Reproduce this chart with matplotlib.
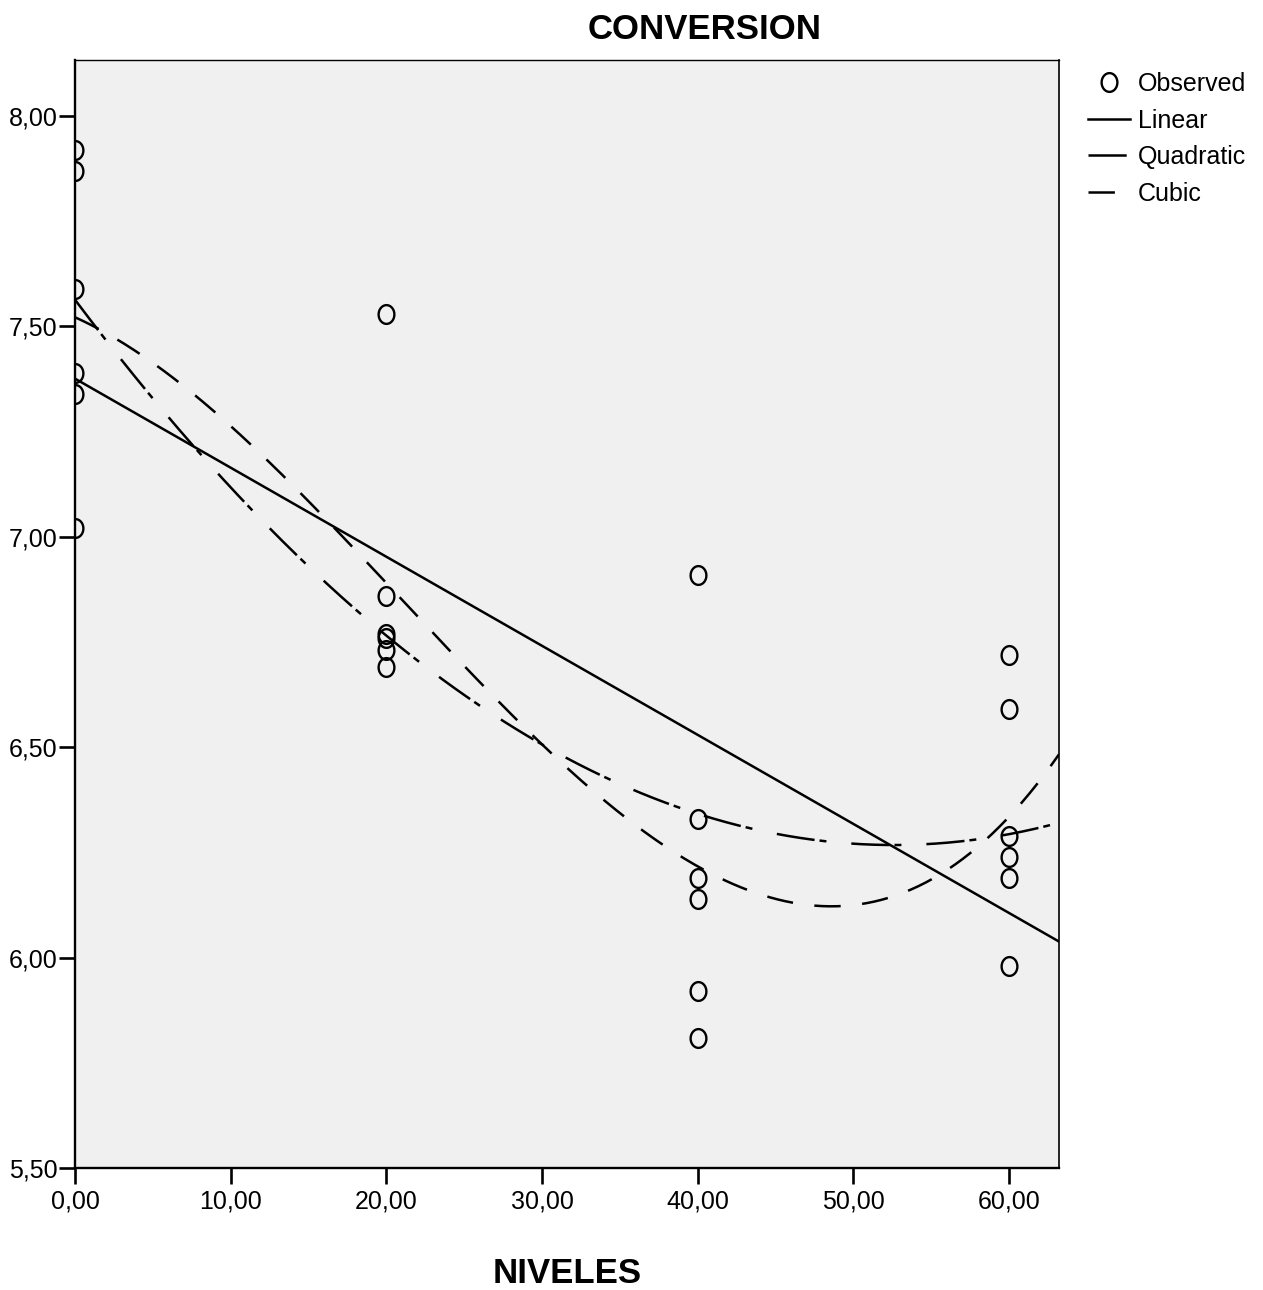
import numpy as np
import matplotlib
matplotlib.use('Agg')
import matplotlib.pyplot as plt
from matplotlib.path import Path

plt.rcParams['font.family'] = ['Liberation Sans', 'DejaVu Sans']
plt.rcParams['lines.scale_dashes'] = False

# datos
niveles = [0, 0, 0, 0, 0, 0,
           20, 20, 20, 20, 20, 20,
           40, 40, 40, 40, 40, 40,
           60, 60, 60, 60, 60, 60]
conversion = [7.92, 7.87, 7.59, 7.39, 7.34, 7.02,
              7.53, 6.86, 6.77, 6.76, 6.73, 6.69,
              6.91, 6.33, 6.19, 6.14, 5.92, 5.81,
              6.72, 6.59, 6.29, 6.24, 6.19, 5.98]
xticks = [0, 10, 20, 30, 40, 50, 60]
yticks = [5.5, 6.0, 6.5, 7.0, 7.5, 8.0]

x = np.array(niveles, dtype=float)
y = np.array(conversion)

xmin, xmax = 0, 63.2
ymin, ymax = 5.5, 8.133
xs = np.linspace(xmin, xmax, 400)
p1 = np.polyfit(x, y, 1)   # lineal
p2 = np.polyfit(x, y, 2)   # cuadratica
p3 = np.polyfit(x, y, 3)   # cubica

# marcador eliptico (mas alto que ancho)
t = np.linspace(0, 2 * np.pi, 60)
ellipse = Path(np.column_stack((0.42 * np.cos(t), 0.5 * np.sin(t))), closed=True)

fig = plt.figure(figsize=(12.63, 12.9), dpi=100)
ax = fig.add_axes([75 / 1263, 1 - 1168 / 1290, (1059 - 75) / 1263, (1168 - 60) / 1290])
ax.set_facecolor('#f0f0f0')

ax.plot(x, y, linestyle='none', marker=ellipse, markersize=13.5, markerfacecolor='none',
        markeredgecolor='black', markeredgewidth=1.7, label='Observed', zorder=3)
ax.plot(xs, np.polyval(p1, xs), color='black', lw=1.8, label='Linear')
ax.plot(xs, np.polyval(p2, xs), color='black', lw=1.8, dashes=(27.5, 3.6, 5, 18), label='Quadratic')
ax.plot(xs, np.polyval(p3, xs), color='black', lw=1.8, dashes=(19, 15.5), label='Cubic')

ax.set_xlim(xmin, xmax)
ax.set_ylim(ymin, ymax)
ax.set_xticks(xticks)
ax.set_yticks(yticks)
ax.set_xticklabels([('%.2f' % v).replace('.', ',') for v in xticks])
ax.set_yticklabels([('%.2f' % v).replace('.', ',') for v in yticks])
ax.tick_params(direction='out', length=11.5, width=1.9, labelsize=18)
ax.tick_params(axis='x', pad=4)
ax.tick_params(axis='y', pad=1)
ax.spines['left'].set_linewidth(1.7)
ax.spines['bottom'].set_linewidth(1.7)
ax.spines['top'].set_linewidth(1.0)
ax.spines['right'].set_linewidth(1.2)

leg = ax.legend(loc='upper left', bbox_to_anchor=(1.0, 1.015), frameon=False, fontsize=18,
                handlelength=1.7, handletextpad=0.3, labelspacing=0.5, borderaxespad=0.85,
                borderpad=0.3)

fig.text(705 / 1263, 1 - 39 / 1290, 'CONVERSION', ha='center', va='baseline',
         fontsize=25, fontweight='bold')
fig.text(567 / 1263, 1 - 1283 / 1290, 'NIVELES', ha='center', va='baseline',
         fontsize=25, fontweight='bold')

fig.savefig('out.png', dpi=100)
